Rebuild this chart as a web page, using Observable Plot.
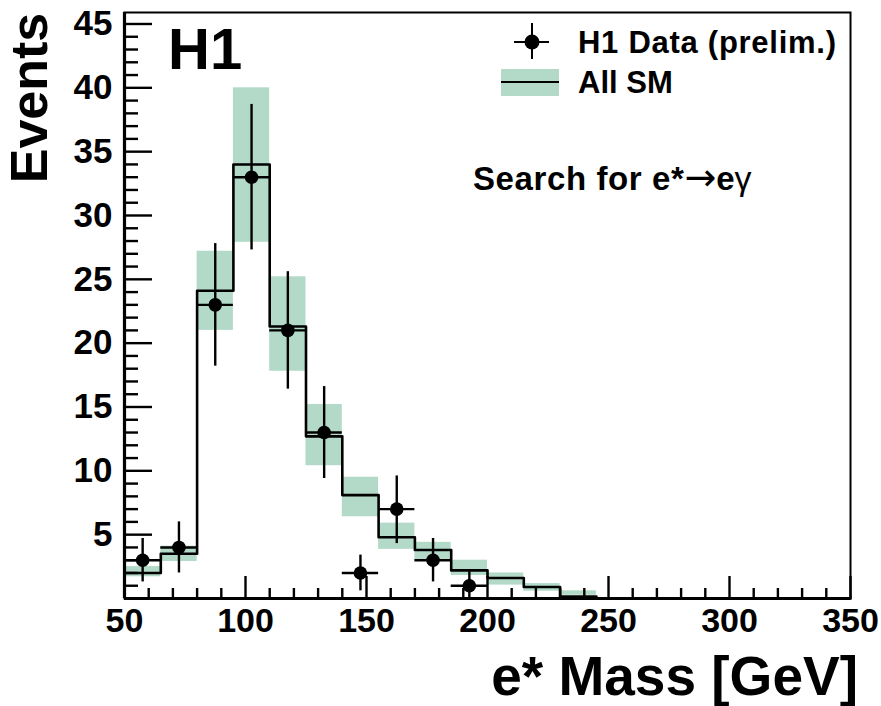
<!DOCTYPE html>
<html>
<head>
<meta charset="utf-8">
<script src="https://cdn.jsdelivr.net/npm/d3@7"></script>
<script src="https://cdn.jsdelivr.net/npm/@observablehq/plot@0.6"></script>
<style>
  html, body { margin: 0; padding: 0; background: white; }
</style>
</head>
<body>
<div id="chart"></div>
<script>
// ---- Data ----
// SM histogram: bin edges (GeV), bin width 15 GeV
const smBinLo   = [50, 65, 80, 95, 110, 125, 140, 155, 170, 185, 200, 215, 230, 245, 260, 275, 290, 305, 320, 335];
const smBinHi   = [65, 80, 95, 110, 125, 140, 155, 170, 185, 200, 215, 230, 245, 260, 275, 290, 305, 320, 335, 350];
const smValue   = [2.0, 3.5, 24.1, 34.0, 21.3, 12.7, 8.1, 4.8, 3.8, 2.2, 1.6, 0.9, 0.15, 0, 0, 0, 0, 0, 0, 0];
const smBandLo  = [1.7, 2.9, 21.0, 27.9, 17.8, 10.4, 6.4, 3.85, 2.9, 1.8, 1.05, 0.57, 0.25, 0, 0, 0, 0, 0, 0, 0];
const smBandHi  = [2.5, 4.1, 27.2, 40.0, 25.2, 15.2, 9.5, 5.9, 4.4, 3.0, 2.0, 1.17, 0.6, 0, 0, 0, 0, 0, 0, 0];

// H1 data points (bin centres, counts, error bar ends)
const dataMass  = [57.5, 72.5, 87.5, 102.5, 117.5, 132.5, 147.5, 162.5, 177.5, 192.5];
const dataCount = [3, 4, 23, 33, 21, 13, 2, 7, 3, 1];
const dataErrLo = [1.3, 2.0, 18.2, 27.3, 16.4, 9.4, 0.6, 4.3, 1.3, 0];
const dataErrHi = [4.7, 6.0, 27.8, 38.7, 25.6, 16.6, 3.4, 9.6, 4.7, 2.1];
const dataHalfWidth = 7.5;

// Axis ticks
const xMajorTicks = [50, 100, 150, 200, 250, 300, 350];
const xMinorTicks = [60, 70, 80, 90, 110, 120, 130, 140, 160, 170, 180, 190, 210, 220, 230, 240, 260, 270, 280, 290, 310, 320, 330, 340];
const yMajorTicks = [5, 10, 15, 20, 25, 30, 35, 40, 45];
const yMinorTicks = [1, 2, 3, 4, 6, 7, 8, 9, 11, 12, 13, 14, 16, 17, 18, 19, 21, 22, 23, 24, 26, 27, 28, 29, 31, 32, 33, 34, 36, 37, 38, 39, 41, 42, 43, 44];
const yMax = 45.9;

// ---- Tables built from arrays ----
const smBins = smBinLo.map((lo, i) => ({lo, hi: smBinHi[i], v: smValue[i], bLo: smBandLo[i], bHi: smBandHi[i]}));
const smStep = smBinLo.map((lo, i) => ({x: lo, y: smValue[i]}))
  .concat([{x: smBinHi[smBinHi.length - 1], y: smValue[smValue.length - 1]}]);
const pts = dataMass.map((m, i) => ({
  m, n: dataCount[i], lo: dataErrLo[i], hi: dataErrHi[i],
  x1: m - dataHalfWidth, x2: m + dataHalfWidth
}));

const W = 881, H = 706;
const mL = 124, mR = 31, mT = 12, mB = 108;
const frameW = W - mL - mR, frameH = H - mT - mB;
const green = "#b3dac8";
const font = "'Liberation Sans', Arial, Helvetica, sans-serif";

const chart = Plot.plot({
  width: W, height: H,
  marginLeft: mL, marginRight: mR, marginTop: mT, marginBottom: mB,
  x: {domain: [50, 350]},
  y: {domain: [0, yMax]},
  style: {fontFamily: font, fontWeight: "bold", background: "white", color: "black"},
  marks: [
    Plot.rect(smBins.filter(d => d.bHi > 0), {x1: "lo", x2: "hi", y1: "bLo", y2: "bHi", fill: green}),
    Plot.line(smStep, {x: "x", y: "y", curve: "step-after", stroke: "black", strokeWidth: 2.6}),
    Plot.ruleY(pts, {y: "n", x1: "x1", x2: "x2", stroke: "black", strokeWidth: 2.4}),
    Plot.ruleX(pts, {x: "m", y1: "lo", y2: "hi", stroke: "black", strokeWidth: 2.4}),
    Plot.dot(pts, {x: "m", y: "n", r: 6.8, fill: "black", stroke: "none"}),
    // inward ticks
    Plot.tickX(xMajorTicks, {x: d => d, insetTop: frameH - 22, stroke: "black", strokeWidth: 2.4}),
    Plot.tickX(xMinorTicks, {x: d => d, insetTop: frameH - 10, stroke: "black", strokeWidth: 2.4}),
    Plot.tickY(yMajorTicks, {y: d => d, insetRight: frameW - 28, stroke: "black", strokeWidth: 2.4}),
    Plot.tickY(yMinorTicks, {y: d => d, insetRight: frameW - 14, stroke: "black", strokeWidth: 2.4}),
    Plot.axisX({ticks: xMajorTicks, tickSize: 0, tickPadding: 9, fontSize: 34, label: null}),
    Plot.axisY({ticks: yMajorTicks, tickSize: 0, tickPadding: 12, fontSize: 35, label: null}),
    Plot.frame({stroke: "black", strokeWidth: 2}),
    Plot.ruleX([50], {stroke: "black", strokeWidth: 3.2}),
    Plot.ruleY([0], {stroke: "black", strokeWidth: 3.2})
  ]
});

document.getElementById("chart").appendChild(chart);

// ---- Text annotations and legend ----
const svg = d3.select(chart);
const g = svg.append("g").attr("font-family", font).attr("font-weight", "bold")
  .attr("fill", "black").attr("text-anchor", "start");

g.append("text").attr("transform", "translate(47,98) rotate(-90)")
  .attr("text-anchor", "middle").attr("font-size", 52).text("Events");

g.append("text").attr("x", 858).attr("y", 695).attr("text-anchor", "end")
  .attr("font-size", 55).text("e* Mass [GeV]");

g.append("text").attr("x", 168).attr("y", 69).attr("font-size", 58).text("H1");

// legend: data
g.append("line").attr("x1", 514).attr("x2", 549).attr("y1", 42).attr("y2", 42).attr("stroke", "black").attr("stroke-width", 2);
g.append("line").attr("x1", 532).attr("x2", 532).attr("y1", 23).attr("y2", 59).attr("stroke", "black").attr("stroke-width", 2);
g.append("circle").attr("cx", 532).attr("cy", 42).attr("r", 7.5).attr("fill", "black");
g.append("text").attr("x", 578).attr("y", 53).attr("font-size", 31).attr("textLength", 258)
  .attr("lengthAdjust", "spacing").text("H1 Data (prelim.)");

// legend: SM
g.append("rect").attr("x", 501).attr("y", 69).attr("width", 58).attr("height", 27).attr("fill", green);
g.append("line").attr("x1", 501).attr("x2", 559).attr("y1", 82).attr("y2", 82).attr("stroke", "black").attr("stroke-width", 2.2);
g.append("text").attr("x", 578).attr("y", 93).attr("font-size", 31).text("All SM");

const s = g.append("text").attr("x", 473).attr("y", 190).attr("font-size", 33);
s.append("tspan").attr("letter-spacing", 0.6).text("Search for e*");
s.append("tspan").attr("font-weight", "normal").attr("font-family", "'DejaVu Sans', sans-serif")
  .attr("font-size", 38).text("\u2192");
s.append("tspan").text("e");
s.append("tspan").attr("font-weight", "normal").attr("font-size", 34).text("\u03B3");
</script>
</body>
</html>
